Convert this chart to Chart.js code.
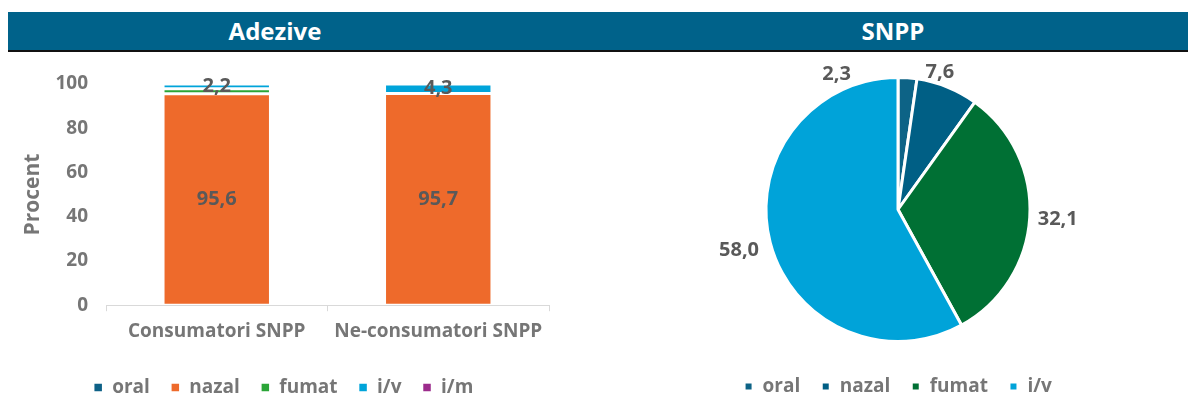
<!DOCTYPE html>
<html>
<head>
<meta charset="utf-8">
<script src="https://cdn.jsdelivr.net/npm/chart.js@4.4.1/dist/chart.umd.min.js"></script>
<style>
  body { margin:0; width:1188px; height:420px; background:#fff; position:relative; overflow:hidden; font-family:"Open Sans", sans-serif; }
  #band { position:absolute; left:8px; top:12px; width:1180px; height:38px; background:#00628a; border-bottom:2px solid #111; }
  .ttl { position:absolute; top:0; line-height:38px; color:#fff; font-weight:bold; font-size:24px; transform:translateX(-50%); }
  #leftBox { position:absolute; left:0; top:55px; width:575px; height:355px; }
  #rightBox { position:absolute; left:606px; top:55px; width:582px; height:355px; }
</style>
</head>
<body>
<div id="band">
  <div class="ttl" style="left:267px">Adezive</div>
  <div class="ttl" style="left:885px">SNPP</div>
</div>
<div id="leftBox"><canvas id="barChart"></canvas></div>
<div id="rightBox"><canvas id="pieChart"></canvas></div>
<script>
const groups = ["Consumatori SNPP", "Ne-consumatori SNPP"];
const routes = ["oral", "nazal", "fumat", "i/v", "i/m"];
const oralVals = [0, 0];
const nazalVals = [95.6, 95.7];
const fumatVals = [2.2, 0];
const ivVals = [2.2, 4.3];
const imVals = [0, 0];
const yTicks = [0, 20, 40, 60, 80, 100];

const snppRoutes = ["oral", "nazal", "fumat", "i/v"];
const snppVals = [2.3, 7.6, 32.1, 58.0];

const barColors = ["#0e6187", "#ee6a2b", "#2aa537", "#00a4da", "#9c2c8c"];
const pieColors = ["#0d6386", "#005f85", "#007034", "#00a3d9"];
const grey = "#767676";
const dark = "#595959";
const FAM = "'Open Sans'";
const fnt = (s) => ({ family: FAM, size: s, weight: "bold" });
const fmt = (v) => v.toFixed(1).replace(".", ",");

// labels on the bars: only for datasets flagged with showVal
const barLabels = {
  id: "barLabels",
  afterDatasetsDraw(chart) {
    const c = chart.ctx;
    c.save();
    c.font = "bold 20px " + FAM;
    c.fillStyle = dark;
    c.textAlign = "center";
    c.textBaseline = "middle";
    chart.data.datasets.forEach((ds, i) => {
      if (!ds.showVal) return;
      chart.getDatasetMeta(i).data.forEach((bar, j) => {
        if (!ds.data[j]) return;
        c.fillText(fmt(ds.data[j]), bar.x, (bar.y + bar.base) / 2);
      });
    });
    c.restore();
  }
};

const pieNudge = [[-73, 24], [-18, 11], [0, 0], [-4, 1]];
const pieLabels = {
  id: "pieLabels",
  afterDatasetsDraw(chart) {
    const c = chart.ctx;
    c.save();
    c.font = "bold 20px " + FAM;
    c.fillStyle = dark;
    c.textAlign = "center";
    c.textBaseline = "middle";
    chart.getDatasetMeta(0).data.forEach((arc, i) => {
      const a = (arc.startAngle + arc.endAngle) / 2;
      const r = arc.outerRadius + 28;
      c.fillText(fmt(snppVals[i]), arc.x + Math.cos(a) * r + pieNudge[i][0], arc.y + Math.sin(a) * r + pieNudge[i][1]);
    });
    c.restore();
  }
};

const legendOpts = {
  position: "bottom",
  labels: { boxWidth: 9, boxHeight: 9, color: grey, font: fnt(19), padding: 21 }
};

const valsByRoute = [oralVals, nazalVals, fumatVals, ivVals, imVals];
new Chart(document.getElementById("barChart"), {
  type: "bar",
  data: {
    labels: groups,
    datasets: routes.map((r, i) => ({
      label: r,
      data: valsByRoute[i],
      backgroundColor: barColors[i],
      borderColor: "#fff",
      borderWidth: 1.5,
      borderSkipped: false,
      showVal: r === "nazal" || r === "i/v",
      categoryPercentage: 1,
      barPercentage: 0.485
    }))
  },
  options: {
    responsive: true,
    maintainAspectRatio: false,
    animation: false,
    layout: { padding: { top: 29, right: 26, left: 18, bottom: 3 } },
    plugins: { legend: legendOpts, tooltip: { enabled: false } },
    scales: {
      x: {
        stacked: true,
        afterFit: (s) => { s.height += 5; },
        grid: { display: true, drawOnChartArea: false, tickLength: 6, color: "#d9d9d9" },
        border: { display: true, color: "#d9d9d9" },
        ticks: { color: grey, font: fnt(19), padding: 9 }
      },
      y: {
        stacked: true,
        min: 0, max: 100,
        afterBuildTicks: (s) => { s.ticks = yTicks.map(v => ({ value: v })); },
        afterFit: (s) => { s.width = 88; },
        grid: { display: false },
        border: { display: false },
        ticks: { color: grey, font: fnt(19), padding: 10 },
        title: { display: true, text: "Procent", color: grey, font: fnt(21), padding: { top: 2, bottom: 0 } }
      }
    }
  },
  plugins: [barLabels]
});

new Chart(document.getElementById("pieChart"), {
  type: "pie",
  data: {
    labels: snppRoutes,
    datasets: [{
      data: snppVals,
      backgroundColor: pieColors,
      borderColor: "#fff",
      borderWidth: 3
    }]
  },
  options: {
    responsive: true,
    maintainAspectRatio: false,
    animation: false,
    radius: 132,
    layout: { padding: { top: 8, left: 2, bottom: 4 } },
    plugins: { legend: legendOpts, tooltip: { enabled: false } }
  },
  plugins: [pieLabels]
});
</script>
</body>
</html>
